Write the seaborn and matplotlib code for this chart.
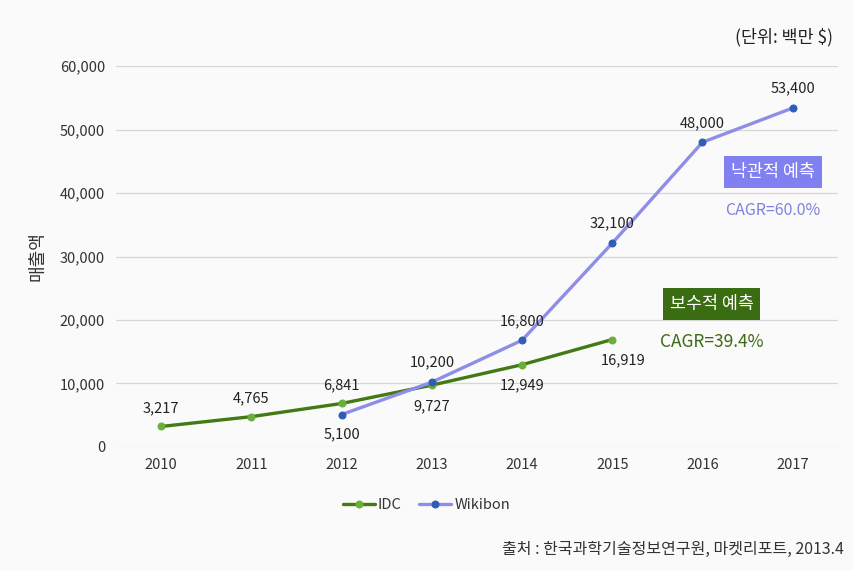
import numpy as np
import pandas as pd
import matplotlib
matplotlib.use("Agg")
import matplotlib.pyplot as plt
import seaborn as sns

# 데이터
years = [2010, 2011, 2012, 2013, 2014, 2015, 2016, 2017]
idc_years = [2010, 2011, 2012, 2013, 2014, 2015]
idc_vals = [3217, 4765, 6841, 9727, 12949, 16919]
wiki_years = [2012, 2013, 2014, 2015, 2016, 2017]
wiki_vals = [5100, 10200, 16800, 32100, 48000, 53400]

# 라벨 위치 (위/아래)
idc_pos = ['up', 'up', 'up', 'down', 'down', 'down']
wiki_pos = ['down', 'up', 'up', 'up', 'up', 'up']

sns.set_style("white")
plt.rcParams['font.family'] = ['Noto Sans CJK KR', 'DejaVu Sans']

bg = '#fafafa'
fig = plt.figure(figsize=(8.54, 5.70), dpi=100, facecolor=bg)
ax = fig.add_axes([0.136, 0.216, 0.845, 0.668], facecolor=bg)

df_idc = pd.DataFrame({'year': idc_years, 'value': idc_vals})
df_wiki = pd.DataFrame({'year': wiki_years, 'value': wiki_vals})

sns.lineplot(data=df_idc, x='year', y='value', ax=ax, color='#437a16', lw=2.4,
             marker='o', markersize=5, markerfacecolor='#6aae3c', markeredgecolor='#6aae3c',
             label='IDC')
sns.lineplot(data=df_wiki, x='year', y='value', ax=ax, color='#8e8ee8', lw=2.4,
             marker='o', markersize=5, markerfacecolor='#2f5db4', markeredgecolor='#2f5db4',
             label='Wikibon')

ax.set_xlim(2009.5, 2017.5)
ax.set_ylim(0, 60000)
ax.set_xticks(years)
ax.set_yticks(np.arange(0, 60001, 10000))
ax.yaxis.set_major_formatter(matplotlib.ticker.FuncFormatter(lambda v, p: f'{int(v):,}'))
ax.tick_params(axis='both', length=0, labelsize=10.5, labelcolor='#333333', pad=8)
ax.grid(axis='y', color='#d6d6d6', lw=0.9)
ax.set_axisbelow(True)
for s in ax.spines.values():
    s.set_visible(False)
ax.set_xlabel('')
ax.set_ylabel('매출액', fontsize=13, color='#333333', labelpad=10)

# 데이터 라벨
for x, y, p in zip(idc_years, idc_vals, idc_pos):
    dx, dy = (0, 13) if p == 'up' else (0, -15)
    if x == 2015:
        dx = 8
    ax.annotate(f'{y:,}', (x, y), xytext=(dx, dy), textcoords='offset points',
                ha='center', va='center', fontsize=10.5, color='#222222')
for x, y, p in zip(wiki_years, wiki_vals, wiki_pos):
    dy = 14 if p == 'up' else -14
    ax.annotate(f'{y:,}', (x, y), xytext=(0, dy), textcoords='offset points',
                ha='center', va='center', fontsize=10.5, color='#222222')

# 주석 박스
ax.text(2016.78, 43300, '낙관적 예측', fontsize=12.5, color='white', ha='center', va='center',
        bbox=dict(boxstyle='square,pad=0.4', fc='#8080f0', ec='none'))
ax.text(2016.78, 37200, 'CAGR=60.0%', fontsize=11.5, color='#8080e0', ha='center', va='center')
ax.text(2016.1, 22500, '보수적 예측', fontsize=12.5, color='white', ha='center', va='center',
        bbox=dict(boxstyle='square,pad=0.4', fc='#3a6c12', ec='none'))
ax.text(2016.1, 16500, 'CAGR=39.4%', fontsize=12.5, color='#3d6a14', ha='center', va='center')

leg = ax.legend(loc='upper center', bbox_to_anchor=(0.43, -0.1), ncol=2, frameon=False,
                fontsize=10.5, handlelength=2.2, handletextpad=0.2, columnspacing=1.2)
for t in leg.get_texts():
    t.set_color('#333333')

fig.text(0.975, 0.935, '(단위: 백만 $)', ha='right', va='center', fontsize=12.5, color='#222222')
fig.text(0.988, 0.036, '출처 : 한국과학기술정보연구원, 마켓리포트, 2013.4', ha='right', va='center',
         fontsize=11.5, color='#333333')

fig.savefig('out.png', dpi=100, facecolor=bg)
